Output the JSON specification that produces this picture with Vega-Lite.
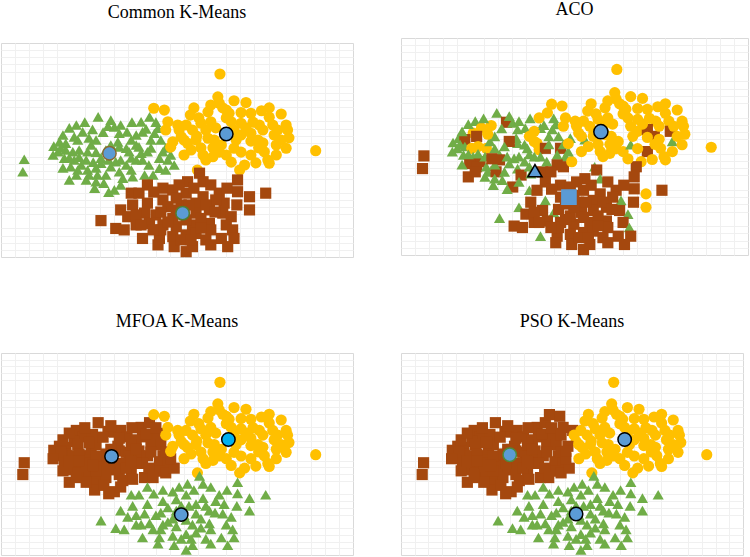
{
  "$schema": "https://vega.github.io/schema/vega-lite/v6.json",
  "padding": {"left": 0, "top": 0, "right": 0, "bottom": 0},
  "background": "white",
  "config": {
    "view": {"stroke": "#D9D9D9", "strokeWidth": 1},
    "title": {"font": "Liberation Serif", "fontSize": 18, "fontWeight": "normal", "color": "#000000", "frame": "group", "anchor": "middle"},
    "axis": {"labels": false, "ticks": false, "domain": false, "grid": true, "gridWidth": 1}
  },
  "datasets": {
    "pts": [
      {"x":1.38,"y":3.93,"k":"C1","a":"C1","m":"C3","p":"C3"},
      {"x":1.07,"y":3.70,"k":"C1","a":"C1","m":"C3","p":"C3"},
      {"x":1.16,"y":3.51,"k":"C1","a":"C2","m":"C3","p":"C3"},
      {"x":1.30,"y":3.58,"k":"C1","a":"C2","m":"C3","p":"C3"},
      {"x":1.52,"y":3.67,"k":"C1","a":"C3","m":"C3","p":"C3"},
      {"x":1.61,"y":3.65,"k":"C1","a":"C1","m":"C3","p":"C3"},
      {"x":1.70,"y":3.70,"k":"C1","a":"C1","m":"C3","p":"C3"},
      {"x":1.79,"y":3.51,"k":"C1","a":"C1","m":"C3","p":"C3"},
      {"x":1.99,"y":3.79,"k":"C1","a":"C2","m":"C3","p":"C3"},
      {"x":2.11,"y":3.93,"k":"C1","a":"C2","m":"C3","p":"C3"},
      {"x":2.01,"y":3.51,"k":"C1","a":"C1","m":"C3","p":"C3"},
      {"x":1.92,"y":3.42,"k":"C1","a":"C2","m":"C3","p":"C3"},
      {"x":2.18,"y":3.47,"k":"C1","a":"C1","m":"C3","p":"C3"},
      {"x":2.23,"y":3.61,"k":"C1","a":"C1","m":"C3","p":"C3"},
      {"x":1.04,"y":3.37,"k":"C1","a":"C2","m":"C3","p":"C3"},
      {"x":1.09,"y":3.28,"k":"C1","a":"C3","m":"C3","p":"C3"},
      {"x":0.83,"y":3.23,"k":"C1","a":"C1","m":"C3","p":"C3"},
      {"x":0.92,"y":3.19,"k":"C1","a":"C3","m":"C3","p":"C3"},
      {"x":0.81,"y":2.95,"k":"C1","a":"C1","m":"C3","p":"C3"},
      {"x":0.92,"y":3.00,"k":"C1","a":"C1","m":"C3","p":"C3"},
      {"x":1.02,"y":2.95,"k":"C1","a":"C2","m":"C3","p":"C3"},
      {"x":1.23,"y":2.95,"k":"C1","a":"C2","m":"C3","p":"C3"},
      {"x":0.90,"y":2.77,"k":"C1","a":"C1","m":"C3","p":"C3"},
      {"x":1.04,"y":2.72,"k":"C1","a":"C1","m":"C3","p":"C3"},
      {"x":1.14,"y":2.58,"k":"C1","a":"C3","m":"C3","p":"C3"},
      {"x":1.42,"y":2.77,"k":"C1","a":"C1","m":"C3","p":"C3"},
      {"x":1.42,"y":2.63,"k":"C1","a":"C3","m":"C3","p":"C3"},
      {"x":1.66,"y":3.23,"k":"C1","a":"C1","m":"C3","p":"C3"},
      {"x":1.68,"y":3.09,"k":"C1","a":"C1","m":"C3","p":"C3"},
      {"x":1.78,"y":3.05,"k":"C1","a":"C1","m":"C3","p":"C3"},
      {"x":1.82,"y":2.95,"k":"C1","a":"C1","m":"C3","p":"C3"},
      {"x":1.96,"y":3.09,"k":"C1","a":"C2","m":"C3","p":"C3"},
      {"x":1.99,"y":2.91,"k":"C1","a":"C2","m":"C3","p":"C3"},
      {"x":2.08,"y":2.95,"k":"C1","a":"C3","m":"C3","p":"C3"},
      {"x":2.30,"y":2.95,"k":"C1","a":"C3","m":"C3","p":"C3"},
      {"x":2.25,"y":2.77,"k":"C1","a":"C1","m":"C3","p":"C3"},
      {"x":2.37,"y":2.72,"k":"C1","a":"C1","m":"C3","p":"C3"},
      {"x":2.01,"y":2.72,"k":"C1","a":"C1","m":"C3","p":"C3"},
      {"x":1.63,"y":2.67,"k":"C1","a":"C1","m":"C3","p":"C3"},
      {"x":0.33,"y":2.74,"k":"C1","a":"C3","m":"C3","p":"C3"},
      {"x":0.31,"y":2.39,"k":"C1","a":"C3","m":"C3","p":"C3"},
      {"x":0.99,"y":2.53,"k":"C1","a":"C3","m":"C3","p":"C3"},
      {"x":1.09,"y":2.44,"k":"C1","a":"C3","m":"C3","p":"C3"},
      {"x":0.97,"y":2.16,"k":"C1","a":"C3","m":"C3","p":"C3"},
      {"x":1.23,"y":2.44,"k":"C1","a":"C1","m":"C3","p":"C3"},
      {"x":1.25,"y":2.30,"k":"C1","a":"C1","m":"C3","p":"C3"},
      {"x":1.37,"y":2.30,"k":"C1","a":"C3","m":"C3","p":"C3"},
      {"x":1.35,"y":2.11,"k":"C1","a":"C1","m":"C3","p":"C3"},
      {"x":1.33,"y":1.93,"k":"C1","a":"C1","m":"C3","p":"C3"},
      {"x":1.61,"y":1.88,"k":"C1","a":"C3","m":"C3","p":"C3"},
      {"x":1.56,"y":2.53,"k":"C1","a":"C1","m":"C3","p":"C3"},
      {"x":1.68,"y":2.39,"k":"C1","a":"C1","m":"C3","p":"C3"},
      {"x":1.73,"y":2.21,"k":"C1","a":"C3","m":"C3","p":"C3"},
      {"x":1.85,"y":2.44,"k":"C1","a":"C1","m":"C3","p":"C3"},
      {"x":1.87,"y":2.25,"k":"C1","a":"C1","m":"C3","p":"C3"},
      {"x":2.04,"y":2.30,"k":"C1","a":"C3","m":"C3","p":"C3"},
      {"x":2.25,"y":2.49,"k":"C1","a":"C3","m":"C3","p":"C3"},
      {"x":2.34,"y":2.44,"k":"C1","a":"C3","m":"C3","p":"C3"},
      {"x":2.46,"y":2.58,"k":"C1","a":"C2","m":"C3","p":"C3"},
      {"x":1.28,"y":3.14,"k":"C1","a":"C1","m":"C3","p":"C3"},
      {"x":1.35,"y":3.28,"k":"C1","a":"C1","m":"C3","p":"C3"},
      {"x":1.56,"y":3.14,"k":"C1","a":"C3","m":"C3","p":"C3"},
      {"x":1.70,"y":2.72,"k":"C1","a":"C1","m":"C3","p":"C3"},
      {"x":1.78,"y":2.58,"k":"C1","a":"C1","m":"C3","p":"C3"},
      {"x":1.92,"y":2.72,"k":"C1","a":"C1","m":"C3","p":"C3"},
      {"x":2.13,"y":3.28,"k":"C1","a":"C1","m":"C3","p":"C3"},
      {"x":1.85,"y":3.28,"k":"C1","a":"C2","m":"C3","p":"C3"},
      {"x":1.21,"y":2.72,"k":"C1","a":"C1","m":"C3","p":"C3"},
      {"x":1.49,"y":2.30,"k":"C1","a":"C1","m":"C3","p":"C3"},
      {"x":1.35,"y":2.50,"k":"C1","a":"C1","m":"C3","p":"C3"},
      {"x":0.75,"y":3.11,"k":"C1","a":"C1","m":"C3","p":"C3"},
      {"x":0.88,"y":2.50,"k":"C1","a":"C1","m":"C3","p":"C3"},
      {"x":0.88,"y":3.42,"k":"C1","a":"C1","m":"C3","p":"C3"},
      {"x":0.97,"y":3.62,"k":"C1","a":"C1","m":"C3","p":"C3"},
      {"x":1.19,"y":3.78,"k":"C1","a":"C1","m":"C3","p":"C3"},
      {"x":1.25,"y":3.34,"k":"C1","a":"C2","m":"C3","p":"C3"},
      {"x":1.45,"y":3.50,"k":"C1","a":"C1","m":"C3","p":"C3"},
      {"x":1.56,"y":3.84,"k":"C1","a":"C1","m":"C3","p":"C3"},
      {"x":1.86,"y":3.78,"k":"C1","a":"C1","m":"C3","p":"C3"},
      {"x":2.06,"y":3.59,"k":"C1","a":"C1","m":"C3","p":"C3"},
      {"x":2.27,"y":3.28,"k":"C1","a":"C1","m":"C3","p":"C3"},
      {"x":2.34,"y":3.06,"k":"C1","a":"C1","m":"C3","p":"C3"},
      {"x":2.13,"y":3.06,"k":"C1","a":"C1","m":"C3","p":"C3"},
      {"x":1.49,"y":3.00,"k":"C1","a":"C1","m":"C3","p":"C3"},
      {"x":1.35,"y":2.94,"k":"C1","a":"C1","m":"C3","p":"C3"},
      {"x":1.11,"y":3.00,"k":"C1","a":"C2","m":"C3","p":"C3"},
      {"x":0.85,"y":3.06,"k":"C1","a":"C1","m":"C3","p":"C3"},
      {"x":0.97,"y":2.78,"k":"C1","a":"C1","m":"C3","p":"C3"},
      {"x":1.11,"y":2.80,"k":"C1","a":"C1","m":"C3","p":"C3"},
      {"x":1.31,"y":2.66,"k":"C1","a":"C3","m":"C3","p":"C3"},
      {"x":1.53,"y":2.72,"k":"C1","a":"C1","m":"C3","p":"C3"},
      {"x":1.85,"y":2.78,"k":"C1","a":"C1","m":"C3","p":"C3"},
      {"x":2.10,"y":2.58,"k":"C1","a":"C1","m":"C3","p":"C3"},
      {"x":2.16,"y":2.30,"k":"C1","a":"C3","m":"C3","p":"C3"},
      {"x":1.46,"y":2.07,"k":"C1","a":"C1","m":"C3","p":"C3"},
      {"x":1.21,"y":2.16,"k":"C1","a":"C1","m":"C3","p":"C3"},
      {"x":1.07,"y":2.30,"k":"C1","a":"C3","m":"C3","p":"C3"},
      {"x":1.70,"y":2.02,"k":"C1","a":"C1","m":"C3","p":"C3"},
      {"x":1.53,"y":1.82,"k":"C1","a":"C1","m":"C3","p":"C3"},
      {"x":2.41,"y":2.86,"k":"C1","a":"C1","m":"C3","p":"C3"},
      {"x":0.74,"y":2.86,"k":"C1","a":"C1","m":"C3","p":"C3"},
      {"x":1.68,"y":3.47,"k":"C1","a":"C1","m":"C3","p":"C3"},
      {"x":1.92,"y":3.14,"k":"C1","a":"C2","m":"C3","p":"C3"},
      {"x":2.20,"y":3.78,"k":"C1","a":"C1","m":"C3","p":"C3"},
      {"x":3.11,"y":5.13,"k":"C2","a":"C2","m":"C2","p":"C2"},
      {"x":2.17,"y":4.17,"k":"C2","a":"C2","m":"C2","p":"C3"},
      {"x":2.32,"y":4.12,"k":"C2","a":"C2","m":"C2","p":"C3"},
      {"x":2.69,"y":3.98,"k":"C2","a":"C2","m":"C2","p":"C2"},
      {"x":3.08,"y":4.49,"k":"C2","a":"C2","m":"C2","p":"C2"},
      {"x":3.10,"y":4.31,"k":"C2","a":"C2","m":"C2","p":"C2"},
      {"x":3.31,"y":4.38,"k":"C2","a":"C2","m":"C2","p":"C2"},
      {"x":3.48,"y":4.33,"k":"C2","a":"C2","m":"C2","p":"C2"},
      {"x":2.98,"y":4.26,"k":"C2","a":"C2","m":"C2","p":"C2"},
      {"x":2.94,"y":4.07,"k":"C2","a":"C2","m":"C2","p":"C2"},
      {"x":3.24,"y":4.03,"k":"C2","a":"C2","m":"C2","p":"C2"},
      {"x":3.41,"y":4.05,"k":"C2","a":"C2","m":"C2","p":"C2"},
      {"x":3.55,"y":4.03,"k":"C2","a":"C2","m":"C2","p":"C2"},
      {"x":3.70,"y":4.10,"k":"C2","a":"C2","m":"C2","p":"C2"},
      {"x":3.98,"y":4.01,"k":"C2","a":"C2","m":"C2","p":"C2"},
      {"x":2.37,"y":3.79,"k":"C2","a":"C2","m":"C2","p":"C3"},
      {"x":2.51,"y":3.70,"k":"C2","a":"C2","m":"C2","p":"C3"},
      {"x":2.84,"y":3.75,"k":"C2","a":"C2","m":"C2","p":"C2"},
      {"x":2.98,"y":3.79,"k":"C2","a":"C2","m":"C2","p":"C2"},
      {"x":3.27,"y":3.79,"k":"C2","a":"C2","m":"C2","p":"C2"},
      {"x":3.41,"y":3.75,"k":"C2","a":"C2","m":"C2","p":"C2"},
      {"x":3.67,"y":3.70,"k":"C2","a":"C2","m":"C2","p":"C2"},
      {"x":3.86,"y":3.70,"k":"C2","a":"C2","m":"C2","p":"C2"},
      {"x":4.05,"y":3.70,"k":"C2","a":"C2","m":"C2","p":"C2"},
      {"x":4.07,"y":3.56,"k":"C2","a":"C2","m":"C2","p":"C2"},
      {"x":2.34,"y":3.56,"k":"C2","a":"C2","m":"C2","p":"C3"},
      {"x":2.72,"y":3.56,"k":"C2","a":"C2","m":"C2","p":"C2"},
      {"x":2.56,"y":3.37,"k":"C2","a":"C2","m":"C2","p":"C2"},
      {"x":2.44,"y":3.23,"k":"C2","a":"C1","m":"C2","p":"C3"},
      {"x":2.65,"y":3.19,"k":"C2","a":"C1","m":"C2","p":"C2"},
      {"x":2.94,"y":3.33,"k":"C2","a":"C2","m":"C2","p":"C2"},
      {"x":3.03,"y":3.28,"k":"C2","a":"C2","m":"C2","p":"C2"},
      {"x":3.41,"y":3.42,"k":"C2","a":"C2","m":"C2","p":"C2"},
      {"x":3.55,"y":3.47,"k":"C2","a":"C3","m":"C2","p":"C2"},
      {"x":3.65,"y":3.28,"k":"C2","a":"C3","m":"C2","p":"C2"},
      {"x":3.88,"y":3.42,"k":"C2","a":"C3","m":"C2","p":"C2"},
      {"x":3.91,"y":3.14,"k":"C2","a":"C1","m":"C2","p":"C2"},
      {"x":4.05,"y":3.05,"k":"C2","a":"C2","m":"C2","p":"C2"},
      {"x":4.47,"y":2.98,"k":"C2","a":"C2","m":"C2","p":"C2"},
      {"x":2.41,"y":3.08,"k":"C2","a":"C2","m":"C2","p":"C3"},
      {"x":2.60,"y":2.86,"k":"C2","a":"C2","m":"C2","p":"C2"},
      {"x":2.87,"y":2.86,"k":"C2","a":"C2","m":"C2","p":"C2"},
      {"x":3.01,"y":2.81,"k":"C2","a":"C2","m":"C2","p":"C2"},
      {"x":3.20,"y":2.86,"k":"C2","a":"C2","m":"C2","p":"C2"},
      {"x":3.31,"y":3.05,"k":"C2","a":"C1","m":"C2","p":"C2"},
      {"x":3.55,"y":2.86,"k":"C2","a":"C3","m":"C2","p":"C2"},
      {"x":3.74,"y":2.95,"k":"C2","a":"C2","m":"C2","p":"C2"},
      {"x":3.79,"y":2.72,"k":"C2","a":"C2","m":"C2","p":"C2"},
      {"x":3.81,"y":2.63,"k":"C2","a":"C2","m":"C2","p":"C2"},
      {"x":3.46,"y":2.58,"k":"C2","a":"C2","m":"C2","p":"C2"},
      {"x":3.39,"y":2.44,"k":"C2","a":"C3","m":"C2","p":"C2"},
      {"x":2.79,"y":2.44,"k":"C2","a":"C1","m":"C2","p":"C2"},
      {"x":3.13,"y":3.14,"k":"C2","a":"C2","m":"C2","p":"C2"},
      {"x":3.05,"y":3.62,"k":"C2","a":"C2","m":"C2","p":"C2"},
      {"x":2.77,"y":3.28,"k":"C2","a":"C2","m":"C2","p":"C2"},
      {"x":3.72,"y":3.56,"k":"C2","a":"C2","m":"C2","p":"C2"},
      {"x":3.34,"y":3.28,"k":"C2","a":"C2","m":"C2","p":"C2"},
      {"x":3.20,"y":3.90,"k":"C2","a":"C2","m":"C2","p":"C2"},
      {"x":3.48,"y":3.62,"k":"C2","a":"C2","m":"C2","p":"C2"},
      {"x":2.84,"y":3.06,"k":"C2","a":"C2","m":"C2","p":"C2"},
      {"x":3.15,"y":4.18,"k":"C2","a":"C2","m":"C2","p":"C2"},
      {"x":3.58,"y":3.78,"k":"C2","a":"C2","m":"C2","p":"C2"},
      {"x":2.81,"y":3.90,"k":"C2","a":"C2","m":"C2","p":"C2"},
      {"x":2.91,"y":3.56,"k":"C2","a":"C2","m":"C2","p":"C2"},
      {"x":3.31,"y":3.56,"k":"C2","a":"C2","m":"C2","p":"C2"},
      {"x":3.55,"y":3.25,"k":"C2","a":"C2","m":"C2","p":"C2"},
      {"x":3.81,"y":3.92,"k":"C2","a":"C2","m":"C2","p":"C2"},
      {"x":3.93,"y":3.56,"k":"C2","a":"C2","m":"C2","p":"C2"},
      {"x":4.09,"y":3.34,"k":"C2","a":"C2","m":"C2","p":"C2"},
      {"x":2.53,"y":3.56,"k":"C2","a":"C2","m":"C2","p":"C2"},
      {"x":2.63,"y":3.70,"k":"C2","a":"C2","m":"C2","p":"C2"},
      {"x":2.70,"y":3.00,"k":"C2","a":"C2","m":"C2","p":"C2"},
      {"x":2.91,"y":2.72,"k":"C2","a":"C2","m":"C2","p":"C2"},
      {"x":3.10,"y":2.94,"k":"C2","a":"C2","m":"C2","p":"C2"},
      {"x":3.27,"y":2.66,"k":"C2","a":"C2","m":"C2","p":"C2"},
      {"x":3.62,"y":2.64,"k":"C2","a":"C2","m":"C2","p":"C2"},
      {"x":3.66,"y":3.06,"k":"C2","a":"C2","m":"C2","p":"C2"},
      {"x":3.91,"y":2.86,"k":"C2","a":"C2","m":"C2","p":"C2"},
      {"x":2.74,"y":4.18,"k":"C2","a":"C2","m":"C2","p":"C2"},
      {"x":3.20,"y":4.12,"k":"C2","a":"C2","m":"C2","p":"C2"},
      {"x":3.81,"y":4.18,"k":"C2","a":"C2","m":"C2","p":"C2"},
      {"x":3.01,"y":3.06,"k":"C2","a":"C2","m":"C2","p":"C2"},
      {"x":2.78,"y":3.39,"k":"C2","a":"C2","m":"C2","p":"C2"},
      {"x":2.60,"y":3.28,"k":"C2","a":"C2","m":"C2","p":"C2"},
      {"x":3.41,"y":2.94,"k":"C2","a":"C2","m":"C2","p":"C2"},
      {"x":3.72,"y":3.20,"k":"C2","a":"C2","m":"C2","p":"C2"},
      {"x":3.98,"y":3.28,"k":"C2","a":"C2","m":"C2","p":"C2"},
      {"x":2.82,"y":2.35,"k":"C3","a":"C3","m":"C1","p":"C1"},
      {"x":2.87,"y":2.11,"k":"C3","a":"C1","m":"C1","p":"C1"},
      {"x":3.36,"y":2.16,"k":"C3","a":"C3","m":"C1","p":"C1"},
      {"x":3.36,"y":1.83,"k":"C3","a":"C3","m":"C1","p":"C1"},
      {"x":3.76,"y":1.79,"k":"C3","a":"C3","m":"C1","p":"C1"},
      {"x":3.53,"y":1.69,"k":"C3","a":"C2","m":"C1","p":"C1"},
      {"x":3.53,"y":1.32,"k":"C3","a":"C2","m":"C1","p":"C1"},
      {"x":2.08,"y":2.02,"k":"C3","a":"C3","m":"C1","p":"C1"},
      {"x":1.85,"y":1.79,"k":"C3","a":"C1","m":"C1","p":"C1"},
      {"x":1.96,"y":1.79,"k":"C3","a":"C3","m":"C1","p":"C1"},
      {"x":2.30,"y":1.93,"k":"C3","a":"C3","m":"C1","p":"C1"},
      {"x":2.44,"y":1.88,"k":"C3","a":"C3","m":"C1","p":"C1"},
      {"x":2.65,"y":2.11,"k":"C3","a":"C3","m":"C1","p":"C1"},
      {"x":2.63,"y":1.79,"k":"C3","a":"C3","m":"C1","p":"C1"},
      {"x":3.10,"y":1.79,"k":"C3","a":"C3","m":"C1","p":"C1"},
      {"x":2.87,"y":1.69,"k":"C3","a":"C3","m":"C1","p":"C1"},
      {"x":3.17,"y":1.51,"k":"C3","a":"C1","m":"C1","p":"C1"},
      {"x":2.77,"y":1.51,"k":"C3","a":"C3","m":"C1","p":"C1"},
      {"x":1.87,"y":1.46,"k":"C3","a":"C3","m":"C1","p":"C1"},
      {"x":2.08,"y":1.51,"k":"C3","a":"C1","m":"C1","p":"C1"},
      {"x":2.30,"y":1.60,"k":"C3","a":"C3","m":"C1","p":"C1"},
      {"x":2.37,"y":1.41,"k":"C3","a":"C3","m":"C1","p":"C1"},
      {"x":1.70,"y":1.32,"k":"C3","a":"C1","m":"C1","p":"C1"},
      {"x":1.80,"y":1.13,"k":"C3","a":"C3","m":"C1","p":"C1"},
      {"x":2.04,"y":1.23,"k":"C3","a":"C3","m":"C1","p":"C1"},
      {"x":2.20,"y":1.18,"k":"C3","a":"C1","m":"C1","p":"C1"},
      {"x":2.77,"y":1.23,"k":"C3","a":"C3","m":"C1","p":"C1"},
      {"x":2.96,"y":1.32,"k":"C3","a":"C3","m":"C1","p":"C1"},
      {"x":3.15,"y":1.23,"k":"C3","a":"C3","m":"C1","p":"C1"},
      {"x":3.27,"y":1.13,"k":"C3","a":"C1","m":"C1","p":"C1"},
      {"x":1.42,"y":1.02,"k":"C3","a":"C1","m":"C1","p":"C1"},
      {"x":1.63,"y":0.80,"k":"C3","a":"C3","m":"C1","p":"C1"},
      {"x":1.75,"y":0.76,"k":"C3","a":"C3","m":"C1","p":"C1"},
      {"x":2.11,"y":0.94,"k":"C3","a":"C3","m":"C1","p":"C1"},
      {"x":2.30,"y":0.90,"k":"C3","a":"C3","m":"C1","p":"C1"},
      {"x":2.49,"y":0.85,"k":"C3","a":"C3","m":"C1","p":"C1"},
      {"x":2.72,"y":0.90,"k":"C3","a":"C3","m":"C1","p":"C1"},
      {"x":2.96,"y":0.94,"k":"C3","a":"C3","m":"C1","p":"C1"},
      {"x":3.20,"y":0.90,"k":"C3","a":"C3","m":"C1","p":"C1"},
      {"x":3.29,"y":0.76,"k":"C3","a":"C1","m":"C1","p":"C1"},
      {"x":2.01,"y":0.52,"k":"C3","a":"C1","m":"C1","p":"C1"},
      {"x":2.25,"y":0.52,"k":"C3","a":"C3","m":"C1","p":"C1"},
      {"x":2.44,"y":0.57,"k":"C3","a":"C3","m":"C1","p":"C1"},
      {"x":2.63,"y":0.62,"k":"C3","a":"C3","m":"C1","p":"C1"},
      {"x":2.77,"y":0.66,"k":"C3","a":"C3","m":"C1","p":"C1"},
      {"x":3.13,"y":0.52,"k":"C3","a":"C3","m":"C1","p":"C1"},
      {"x":3.31,"y":0.52,"k":"C3","a":"C3","m":"C1","p":"C1"},
      {"x":2.23,"y":0.34,"k":"C3","a":"C3","m":"C1","p":"C1"},
      {"x":2.46,"y":0.29,"k":"C3","a":"C3","m":"C1","p":"C1"},
      {"x":2.63,"y":0.15,"k":"C3","a":"C3","m":"C1","p":"C1"},
      {"x":2.72,"y":0.29,"k":"C3","a":"C3","m":"C1","p":"C1"},
      {"x":3.22,"y":0.29,"k":"C3","a":"C3","m":"C1","p":"C1"},
      {"x":2.84,"y":1.08,"k":"C3","a":"C3","m":"C1","p":"C1"},
      {"x":2.44,"y":1.08,"k":"C3","a":"C3","m":"C1","p":"C1"},
      {"x":2.56,"y":1.46,"k":"C3","a":"C3","m":"C1","p":"C1"},
      {"x":2.98,"y":0.76,"k":"C3","a":"C3","m":"C1","p":"C1"},
      {"x":2.56,"y":0.48,"k":"C3","a":"C3","m":"C1","p":"C1"},
      {"x":3.05,"y":1.60,"k":"C3","a":"C3","m":"C1","p":"C1"},
      {"x":2.27,"y":0.76,"k":"C3","a":"C3","m":"C1","p":"C1"},
      {"x":2.91,"y":0.48,"k":"C3","a":"C3","m":"C1","p":"C1"},
      {"x":2.60,"y":1.18,"k":"C3","a":"C3","m":"C1","p":"C1"},
      {"x":1.92,"y":0.90,"k":"C3","a":"C3","m":"C1","p":"C1"},
      {"x":2.17,"y":1.82,"k":"C3","a":"C3","m":"C1","p":"C1"},
      {"x":2.53,"y":2.02,"k":"C3","a":"C3","m":"C1","p":"C1"},
      {"x":2.74,"y":1.93,"k":"C3","a":"C3","m":"C1","p":"C1"},
      {"x":2.98,"y":2.02,"k":"C3","a":"C3","m":"C1","p":"C1"},
      {"x":3.21,"y":1.93,"k":"C3","a":"C3","m":"C1","p":"C1"},
      {"x":2.49,"y":1.65,"k":"C3","a":"C3","m":"C1","p":"C1"},
      {"x":2.67,"y":1.46,"k":"C3","a":"C3","m":"C1","p":"C1"},
      {"x":2.91,"y":1.46,"k":"C3","a":"C3","m":"C1","p":"C1"},
      {"x":3.04,"y":1.26,"k":"C3","a":"C3","m":"C1","p":"C1"},
      {"x":3.35,"y":1.46,"k":"C3","a":"C3","m":"C1","p":"C1"},
      {"x":1.92,"y":1.18,"k":"C3","a":"C3","m":"C1","p":"C1"},
      {"x":2.16,"y":0.76,"k":"C3","a":"C3","m":"C1","p":"C1"},
      {"x":2.63,"y":1.04,"k":"C3","a":"C3","m":"C1","p":"C1"},
      {"x":2.84,"y":0.81,"k":"C3","a":"C3","m":"C1","p":"C1"},
      {"x":2.98,"y":0.34,"k":"C3","a":"C3","m":"C1","p":"C1"},
      {"x":2.27,"y":1.26,"k":"C3","a":"C3","m":"C1","p":"C1"},
      {"x":2.49,"y":1.32,"k":"C3","a":"C3","m":"C1","p":"C1"},
      {"x":2.70,"y":0.48,"k":"C3","a":"C3","m":"C1","p":"C1"},
      {"x":2.37,"y":0.98,"k":"C3","a":"C3","m":"C1","p":"C1"},
      {"x":1.99,"y":0.90,"k":"C3","a":"C3","m":"C1","p":"C1"}
    ],
    "cent": [
      {"panel":"Common","cluster":"C1","x":1.54,"y":2.91},
      {"panel":"Common","cluster":"C2","x":3.20,"y":3.45},
      {"panel":"Common","cluster":"C3","x":2.58,"y":1.23},
      {"panel":"ACO","cluster":"C1","x":1.93,"y":2.33},
      {"panel":"ACO","cluster":"C2","x":2.88,"y":3.41},
      {"panel":"ACO","cluster":"C3","x":2.42,"y":1.60},
      {"panel":"MFOA","cluster":"C3","x":1.57,"y":2.93},
      {"panel":"MFOA","cluster":"C2","x":3.23,"y":3.43},
      {"panel":"MFOA","cluster":"C1","x":2.56,"y":1.20},
      {"panel":"PSO","cluster":"C3","x":1.59,"y":2.98},
      {"panel":"PSO","cluster":"C2","x":3.27,"y":3.43},
      {"panel":"PSO","cluster":"C1","x":2.56,"y":1.22}
    ]
  },
  "spacing": 46,
  "resolve": {"scale": {"color": "independent", "shape": "independent", "stroke": "independent", "fill": "independent"}},
  "hconcat": [
    {
      "spacing": 54,
      "resolve": {"scale": {"color": "independent", "shape": "independent", "stroke": "independent", "fill": "independent"}},
      "vconcat": [
        {
          "spacing": 3,
          "resolve": {"scale": {"color": "independent", "shape": "independent", "stroke": "independent", "fill": "independent"}},
          "vconcat": [
            {
              "title": {"text": "Common K-Means", "offset": 16},
              "width": 352, "height": 1,
              "view": {"stroke": null},
              "data": {"values": []},
              "mark": {"type": "point", "opacity": 0}
            },
            {
              "width": 352, "height": 214,
              "resolve": {"axis": {"x": "independent", "y": "independent"}},
              "layer": [
                {
                  "data": {"name": "pts"},
                  "mark": {"type": "point", "filled": true, "opacity": 1, "size": 125, "strokeWidth": 0},
                  "encoding": {
                    "x": {"field": "x", "type": "quantitative", "title": null, "scale": {"domain": [0, 5], "nice": false, "zero": false}, "axis": {"orient": "bottom", "gridColor": "#F0F0F0", "values": [0.2,0.4,0.6,0.8,1.2,1.4,1.6,1.8,2.2,2.4,2.6,2.8,3.2,3.4,3.6,3.8,4.2,4.4,4.6,4.8]}},
                    "y": {"field": "y", "type": "quantitative", "title": null, "scale": {"domain": [0, 6], "nice": false, "zero": false}, "axis": {"orient": "left", "gridColor": "#F0F0F0", "values": [0.2,0.4,0.6,0.8,1.2,1.4,1.6,1.8,2.2,2.4,2.6,2.8,3.2,3.4,3.6,3.8,4.2,4.4,4.6,4.8,5.2,5.4,5.6,5.8]}},
                    "color": {"field": "k", "type": "nominal", "legend": null, "scale": {"domain": ["C1", "C2", "C3"], "range": ["#70AD47", "#FFC000", "#A5480E"]}},
                    "shape": {"field": "k", "type": "nominal", "legend": null, "scale": {"domain": ["C1", "C2", "C3"], "range": ["triangle-up", "circle", "square"]}}
                  }
                },
                {
                  "data": {"name": "cent"},
                  "transform": [{"filter": "datum.panel === 'Common'"}],
                  "mark": {"type": "point", "filled": true, "opacity": 1, "size": 180, "strokeWidth": 1.5, "fill": "#5B9BD5", "shape": "circle"},
                  "encoding": {
                    "x": {"field": "x", "type": "quantitative", "title": null, "axis": {"orient": "top", "gridColor": "#D9D9D9", "values": [0, 1, 2, 3, 4, 5]}},
                    "y": {"field": "y", "type": "quantitative", "title": null, "axis": {"orient": "right", "gridColor": "#D9D9D9", "values": [0, 1, 2, 3, 4, 5, 6]}},
                    "stroke": {"field": "cluster", "type": "nominal", "legend": null, "scale": {"domain": ["C1", "C2", "C3"], "range": ["#8A6A30", "#000000", "#507E32"]}}
                  }
                }
              ]
            }
          ]
        },
        {
          "title": {"text": "MFOA K-Means", "offset": 22},
          "width": 352, "height": 202,
          "resolve": {"axis": {"x": "independent", "y": "independent"}},
          "layer": [
            {
              "data": {"name": "pts"},
              "mark": {"type": "point", "filled": true, "opacity": 1, "size": 125, "strokeWidth": 0},
              "encoding": {
                "x": {"field": "x", "type": "quantitative", "title": null, "scale": {"domain": [0, 5], "nice": false, "zero": false}, "axis": {"orient": "bottom", "gridColor": "#F0F0F0", "values": [0.2,0.4,0.6,0.8,1.2,1.4,1.6,1.8,2.2,2.4,2.6,2.8,3.2,3.4,3.6,3.8,4.2,4.4,4.6,4.8]}},
                "y": {"field": "y", "type": "quantitative", "title": null, "scale": {"domain": [0, 6], "nice": false, "zero": false}, "axis": {"orient": "left", "gridColor": "#F0F0F0", "values": [0.2,0.4,0.6,0.8,1.2,1.4,1.6,1.8,2.2,2.4,2.6,2.8,3.2,3.4,3.6,3.8,4.2,4.4,4.6,4.8,5.2,5.4,5.6,5.8]}},
                "color": {"field": "m", "type": "nominal", "legend": null, "scale": {"domain": ["C1", "C2", "C3"], "range": ["#70AD47", "#FFC000", "#A5480E"]}},
                "shape": {"field": "m", "type": "nominal", "legend": null, "scale": {"domain": ["C1", "C2", "C3"], "range": ["triangle-up", "circle", "square"]}}
              }
            },
            {
              "data": {"name": "cent"},
              "transform": [{"filter": "datum.panel === 'MFOA'"}],
              "mark": {"type": "point", "filled": true, "opacity": 1, "size": 180, "strokeWidth": 1.5, "stroke": "#000000", "shape": "circle"},
              "encoding": {
                "x": {"field": "x", "type": "quantitative", "title": null, "axis": {"orient": "top", "gridColor": "#D9D9D9", "values": [0, 1, 2, 3, 4, 5]}},
                "y": {"field": "y", "type": "quantitative", "title": null, "axis": {"orient": "right", "gridColor": "#D9D9D9", "values": [0, 1, 2, 3, 4, 5, 6]}},
                "fill": {"field": "cluster", "type": "nominal", "legend": null, "scale": {"domain": ["C1", "C2", "C3"], "range": ["#5B9BD5", "#00B0F0", "#5B9BD5"]}}
              }
            }
          ]
        }
      ]
    },
    {
      "spacing": 56,
      "resolve": {"scale": {"color": "independent", "shape": "independent", "stroke": "independent", "fill": "independent"}},
      "vconcat": [
        {
          "title": {"text": "ACO", "offset": 19},
          "width": 347, "height": 217,
          "resolve": {"axis": {"x": "independent", "y": "independent"}},
          "layer": [
            {
              "data": {"name": "pts"},
              "mark": {"type": "point", "filled": true, "opacity": 1, "size": 125, "strokeWidth": 0},
              "encoding": {
                "x": {"field": "x", "type": "quantitative", "title": null, "scale": {"domain": [0, 5], "nice": false, "zero": false}, "axis": {"orient": "bottom", "gridColor": "#F0F0F0", "values": [0.2,0.4,0.6,0.8,1.2,1.4,1.6,1.8,2.2,2.4,2.6,2.8,3.2,3.4,3.6,3.8,4.2,4.4,4.6,4.8]}},
                "y": {"field": "y", "type": "quantitative", "title": null, "scale": {"domain": [0, 6], "nice": false, "zero": false}, "axis": {"orient": "left", "gridColor": "#F0F0F0", "values": [0.2,0.4,0.6,0.8,1.2,1.4,1.6,1.8,2.2,2.4,2.6,2.8,3.2,3.4,3.6,3.8,4.2,4.4,4.6,4.8,5.2,5.4,5.6,5.8]}},
                "color": {"field": "a", "type": "nominal", "legend": null, "scale": {"domain": ["C1", "C2", "C3"], "range": ["#70AD47", "#FFC000", "#A5480E"]}},
                "shape": {"field": "a", "type": "nominal", "legend": null, "scale": {"domain": ["C1", "C2", "C3"], "range": ["triangle-up", "circle", "square"]}}
              }
            },
            {
              "data": {"name": "cent"},
              "transform": [{"filter": "datum.panel === 'ACO'"}],
              "mark": {"type": "point", "filled": true, "opacity": 1, "size": 200, "strokeWidth": 1.5, "fill": "#5B9BD5"},
              "encoding": {
                "x": {"field": "x", "type": "quantitative", "title": null, "axis": {"orient": "top", "gridColor": "#D9D9D9", "values": [0, 1, 2, 3, 4, 5]}},
                "y": {"field": "y", "type": "quantitative", "title": null, "axis": {"orient": "right", "gridColor": "#D9D9D9", "values": [0, 1, 2, 3, 4, 5, 6]}},
                "shape": {"field": "cluster", "type": "nominal", "legend": null, "scale": {"domain": ["C1", "C2", "C3"], "range": ["triangle-up", "circle", "square"]}},
                "stroke": {"field": "cluster", "type": "nominal", "legend": null, "scale": {"domain": ["C1", "C2", "C3"], "range": ["#000000", "#000000", "#5B9BD5"]}}
              }
            }
          ]
        },
        {
          "title": {"text": "PSO K-Means", "offset": 22},
          "width": 342, "height": 202,
          "resolve": {"axis": {"x": "independent", "y": "independent"}},
          "layer": [
            {
              "data": {"name": "pts"},
              "mark": {"type": "point", "filled": true, "opacity": 1, "size": 125, "strokeWidth": 0},
              "encoding": {
                "x": {"field": "x", "type": "quantitative", "title": null, "scale": {"domain": [0, 5], "nice": false, "zero": false}, "axis": {"orient": "bottom", "gridColor": "#F0F0F0", "values": [0.2,0.4,0.6,0.8,1.2,1.4,1.6,1.8,2.2,2.4,2.6,2.8,3.2,3.4,3.6,3.8,4.2,4.4,4.6,4.8]}},
                "y": {"field": "y", "type": "quantitative", "title": null, "scale": {"domain": [0, 6], "nice": false, "zero": false}, "axis": {"orient": "left", "gridColor": "#F0F0F0", "values": [0.2,0.4,0.6,0.8,1.2,1.4,1.6,1.8,2.2,2.4,2.6,2.8,3.2,3.4,3.6,3.8,4.2,4.4,4.6,4.8,5.2,5.4,5.6,5.8]}},
                "color": {"field": "p", "type": "nominal", "legend": null, "scale": {"domain": ["C1", "C2", "C3"], "range": ["#70AD47", "#FFC000", "#A5480E"]}},
                "shape": {"field": "p", "type": "nominal", "legend": null, "scale": {"domain": ["C1", "C2", "C3"], "range": ["triangle-up", "circle", "square"]}}
              }
            },
            {
              "data": {"name": "cent"},
              "transform": [{"filter": "datum.panel === 'PSO'"}],
              "mark": {"type": "point", "filled": true, "opacity": 1, "size": 180, "strokeWidth": 1.5, "fill": "#5B9BD5", "shape": "circle"},
              "encoding": {
                "x": {"field": "x", "type": "quantitative", "title": null, "axis": {"orient": "top", "gridColor": "#D9D9D9", "values": [0, 1, 2, 3, 4, 5]}},
                "y": {"field": "y", "type": "quantitative", "title": null, "axis": {"orient": "right", "gridColor": "#D9D9D9", "values": [0, 1, 2, 3, 4, 5, 6]}},
                "stroke": {"field": "cluster", "type": "nominal", "legend": null, "scale": {"domain": ["C1", "C2", "C3"], "range": ["#000000", "#000000", "#4F8A3C"]}}
              }
            }
          ]
        }
      ]
    }
  ]
}
